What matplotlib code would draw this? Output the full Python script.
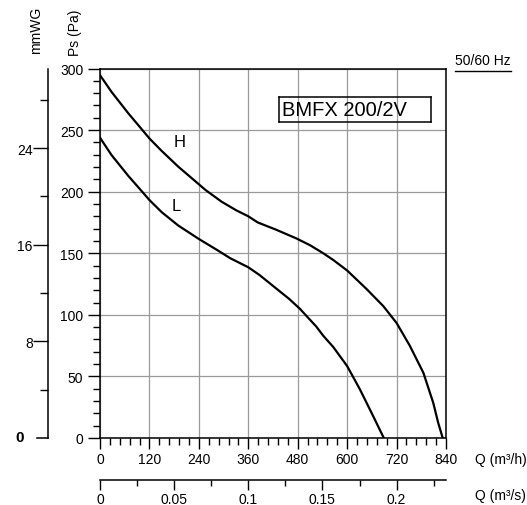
import numpy as np
import matplotlib.pyplot as plt
from matplotlib.ticker import MultipleLocator

plt.rcParams["font.family"] = ["Liberation Sans", "DejaVu Sans"]

# Curve data (Q in m3/h, Ps in Pa)
q_h = [0, 28, 69, 101, 120, 150, 190, 240, 256, 295, 330, 360, 383, 427, 477, 510,
       542, 566, 600, 647, 688, 720, 752, 785, 809, 821, 832]
ps_h = [294.6, 281, 263.5, 250.8, 243.2, 233, 220.3, 206, 201.4, 191.9, 185, 180, 175,
        169.2, 162, 156.5, 150, 144.6, 136, 121, 107, 93.4, 75, 53, 28.6, 12.4, 0]

q_l = [0, 28, 69, 101, 120, 150, 190, 240, 284, 316, 360, 387, 427, 459, 485, 525,
       542, 566, 600, 631, 663, 689]
ps_l = [243.8, 229.7, 212.7, 200.5, 193.2, 183.3, 172.5, 161.6, 152.7, 146, 138.6,
        132.4, 121.6, 113, 105, 90.5, 83, 74, 58.4, 39.5, 17.9, 0]

q_max = 840
ps_max = 300
pa_per_mmwg = 9.80665
model = "BMFX 200/2V"

W, H = 527, 506
fig = plt.figure(figsize=(W / 100, H / 100), dpi=100)

def rect(x0, y0, x1, y1):
    # pixel box -> figure fraction
    return [x0 / W, 1 - y1 / H, (x1 - x0) / W, (y1 - y0) / H]

# Main plot
ax = fig.add_axes(rect(100, 69.5, 446, 439))
ax.plot(q_h, ps_h, color="black", lw=1.6, solid_joinstyle="round")
ax.plot(q_l, ps_l, color="black", lw=1.6, solid_joinstyle="round")
ax.set_xlim(0, q_max)
ax.set_ylim(0, ps_max)
ax.xaxis.set_major_locator(MultipleLocator(120))
ax.xaxis.set_minor_locator(MultipleLocator(24))
ax.yaxis.set_major_locator(MultipleLocator(50))
ax.yaxis.set_minor_locator(MultipleLocator(10))
ax.grid(True, which="major", color="#9a9a9a", lw=0.9)
ax.set_axisbelow(True)
for s in ax.spines.values():
    s.set_linewidth(1.1)
ax.tick_params(axis="x", which="major", direction="out", length=8, width=1, pad=2, labelsize=10)
ax.tick_params(axis="x", which="minor", direction="out", length=5, width=1)
ax.tick_params(axis="y", which="major", direction="out", length=9, width=1, pad=3, labelsize=10)
ax.tick_params(axis="y", which="minor", direction="out", length=5, width=1)

ax.text(194, 241, "H", fontsize=12, ha="center", va="center")
ax.text(186, 188.6, "L", fontsize=12, ha="center", va="center")

# Model label box
box_ax = fig.add_axes(rect(279, 97.5, 431, 122.5))
box_ax.set_xticks([])
box_ax.set_yticks([])
box_ax.patch.set_visible(False)
for s in box_ax.spines.values():
    s.set_linewidth(1.1)
box_ax.text(0.02, 0.5, model, fontsize=14.5, ha="left", va="center", transform=box_ax.transAxes)

# mmWG axis on the far left
axw = fig.add_axes(rect(48, 69.5, 60, 439))
axw.set_ylim(0, ps_max / pa_per_mmwg)
axw.set_xticks([])
for k in ["top", "right", "bottom"]:
    axw.spines[k].set_visible(False)
axw.spines["left"].set_linewidth(1.1)
axw.patch.set_visible(False)
axw.set_yticks([8, 16, 24], ["8", "16", "24"])
axw.set_yticks([4, 12, 20, 28], minor=True)
axw.tick_params(axis="y", which="major", length=10.5, width=1, pad=0.5, labelsize=10)
axw.tick_params(axis="y", which="minor", length=6, width=1)
axw.plot([-0.9, 0], [0, 0], color="black", lw=1.1, transform=axw.get_yaxis_transform(), clip_on=False)
fig.text(20 / W, 1 - 438 / H, "0", fontsize=11, fontweight="bold", ha="center", va="center")

# Secondary Q axis in m3/s
axs = fig.add_axes(rect(100, 481, 446, 490))
axs.set_xlim(0, q_max / 3600)
axs.set_yticks([])
for k in ["top", "right", "left"]:
    axs.spines[k].set_visible(False)
axs.spines["bottom"].set_position(("axes", 1))
axs.spines["bottom"].set_linewidth(1.1)
axs.patch.set_visible(False)
axs.xaxis.set_minor_locator(MultipleLocator(0.025))
axs.set_xticks([0, 0.05, 0.1, 0.15, 0.2], ["0", "0.05", "0.1", "0.15", "0.2"])
axs.tick_params(axis="x", which="major", direction="out", length=7.5, width=1, pad=1, labelsize=10)
axs.tick_params(axis="x", which="minor", direction="out", length=4.5, width=1)

# Axis titles and notes
fig.text(36 / W, 1 - 30 / H, "mmWG", rotation=90, fontsize=10, ha="center", va="center")
fig.text(75 / W, 1 - 33 / H, "Ps (Pa)", rotation=90, fontsize=10, ha="center", va="center")
fig.text(475 / W, 1 - 460 / H, "Q (m³/h)", fontsize=10, ha="left", va="center")
fig.text(475 / W, 1 - 496 / H, "Q (m³/s)", fontsize=10, ha="left", va="center")
fig.text(455 / W, 1 - 61 / H, "50/60 Hz", fontsize=10, ha="left", va="center")
fig.add_artist(plt.Line2D([455 / W, 511 / W], [1 - 72 / H, 1 - 72 / H], color="black", lw=1))

fig.savefig("out.png", dpi=100)
